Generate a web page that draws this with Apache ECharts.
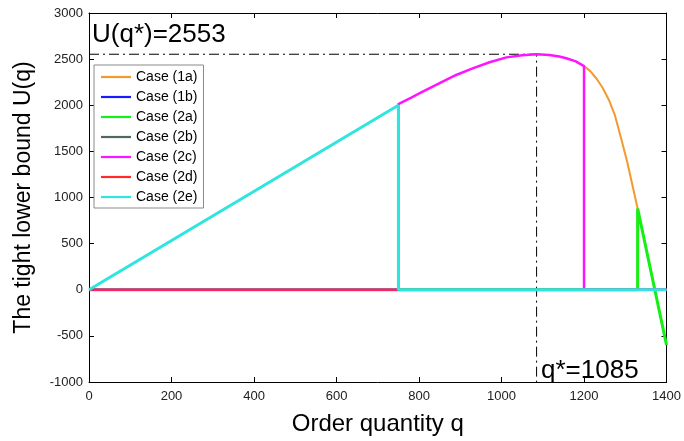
<!DOCTYPE html>
<html>
<head>
<meta charset="utf-8">
<script src="https://cdn.jsdelivr.net/npm/echarts@6/dist/echarts.min.js"></script>
<style>
  html, body { margin: 0; padding: 0; background: #fff; }
  #chart { width: 684px; height: 441px; }
</style>
</head>
<body>
<div id="chart"></div>
<script>
// Order quantity q and the lower bound U(q) for each case (piecewise, zero outside its region)
const case1aQ = [0, 1200, 1200, 1215, 1230, 1245, 1260, 1275, 1290, 1305, 1318, 1330, 1330, 1400];
const case1aU = [0, 0, 2425, 2370, 2290, 2190, 2060, 1890, 1640, 1380, 1120, 880, 0, 0];

const case1bQ = [0, 1400];
const case1bU = [0, 0];

const case2aQ = [0, 1330, 1330, 1400];
const case2aU = [0, 0, 880, -600];

const case2bQ = [0, 1400];
const case2bU = [0, 0];

const case2cQ = [0, 750, 750, 780, 809, 850, 890, 930, 971, 1012, 1050, 1085, 1116, 1140, 1157, 1180, 1200, 1200, 1400];
const case2cU = [0, 0, 2013, 2080, 2147, 2240, 2328, 2400, 2466, 2519, 2542, 2553, 2545, 2528, 2509, 2475, 2425, 0, 0];

const case2dQ = [0, 1400];
const case2dU = [0, 0];

const case2eQ = [0, 750, 750, 1400];
const case2eU = [0, 2000, 0, 0];

// Optimum
const qStar = 1085;
const uStar = 2553;

// Axis ranges
const xMin = 0, xMax = 1400, xStep = 200;
const yMin = -1000, yMax = 3000, yStep = 500;

const caseNames = ['Case (1a)', 'Case (1b)', 'Case (2a)', 'Case (2b)', 'Case (2c)', 'Case (2d)', 'Case (2e)'];
const caseQ = [case1aQ, case1bQ, case2aQ, case2bQ, case2cQ, case2dQ, case2eQ];
const caseU = [case1aU, case1bU, case2aU, case2bU, case2cU, case2dU, case2eU];
const caseColors = ['#f39a2e', '#1a1aff', '#14f014', '#4f6a5d', '#ff14ff', '#ff2a2a', '#30e4e0'];
const caseWidths = [2, 2, 3, 2, 2.5, 2, 3];

const FONT = 'Liberation Sans, Arial, sans-serif';

const pairs = (qs, us) => qs.map((q, i) => [q, us[i]]);

const series = caseNames.map((name, i) => ({
  name: name,
  type: 'line',
  data: pairs(caseQ[i], caseU[i]),
  symbol: 'none',
  lineStyle: { color: caseColors[i], width: caseWidths[i] },
  itemStyle: { color: caseColors[i] },
  animation: false
}));

// Dash-dot guide lines to the optimum
series.push({
  name: 'guide',
  type: 'line',
  data: [[xMin, uStar], [qStar, uStar], [qStar, yMin]],
  symbol: 'none',
  lineStyle: { color: '#000', width: 1, type: [10, 4, 2, 4] },
  silent: true,
  z: 1,
  animation: false
});

const chart = echarts.init(document.getElementById('chart'), null, { renderer: 'canvas' });

const axisCommon = {
  type: 'value',
  axisLine: { show: true, onZero: false, lineStyle: { color: '#000', width: 1 } },
  axisTick: { show: true, inside: true, length: 5, lineStyle: { color: '#000' } },
  splitLine: { show: false }
};

const plain = v => String(v);

chart.setOption({
  animation: false,
  backgroundColor: '#fff',
  grid: { left: 89, right: 17, top: 13, bottom: 59, containLabel: false },
  legend: {
    data: caseNames,
    orient: 'vertical',
    left: 94,
    top: 65,
    icon: 'path://M0,0L30,0L30,2.2L0,2.2Z',
    itemWidth: 30,
    itemHeight: 14,
    itemGap: 6,
    padding: [5, 6, 4, 7],
    backgroundColor: '#fff',
    borderColor: '#8a8a8a',
    borderWidth: 1,
    borderRadius: 0,
    textStyle: { fontFamily: FONT, fontSize: 14, color: '#000' }
  },
  xAxis: [
    Object.assign({}, axisCommon, {
      min: xMin, max: xMax, interval: xStep,
      position: 'bottom',
      name: 'Order quantity q',
      nameLocation: 'middle',
      nameGap: 30,
      nameTextStyle: { fontFamily: FONT, fontSize: 24, color: '#000' },
      axisLabel: { fontFamily: FONT, fontSize: 13, color: '#222', margin: 8, formatter: plain }
    }),
    Object.assign({}, axisCommon, {
      min: xMin, max: xMax, interval: xStep,
      position: 'top',
      axisLabel: { show: false }
    })
  ],
  yAxis: [
    Object.assign({}, axisCommon, {
      min: yMin, max: yMax, interval: yStep,
      position: 'left',
      name: 'The tight lower bound U(q)',
      nameLocation: 'middle',
      nameGap: 54,
      nameRotate: 90,
      nameTextStyle: { fontFamily: FONT, fontSize: 23, color: '#000' },
      axisLabel: { fontFamily: FONT, fontSize: 13, color: '#222', margin: 6, formatter: plain }
    }),
    Object.assign({}, axisCommon, {
      min: yMin, max: yMax, interval: yStep,
      position: 'right',
      axisLabel: { show: false }
    })
  ],
  series: series,
  graphic: [
    {
      type: 'text',
      left: 92,
      top: 22,
      style: { text: 'U(q*)=' + uStar, font: '26px ' + FONT, fill: '#000' }
    },
    {
      type: 'text',
      left: 541,
      top: 358,
      style: { text: 'q*=' + qStar, font: '26px ' + FONT, fill: '#000' }
    }
  ]
});
</script>
</body>
</html>
